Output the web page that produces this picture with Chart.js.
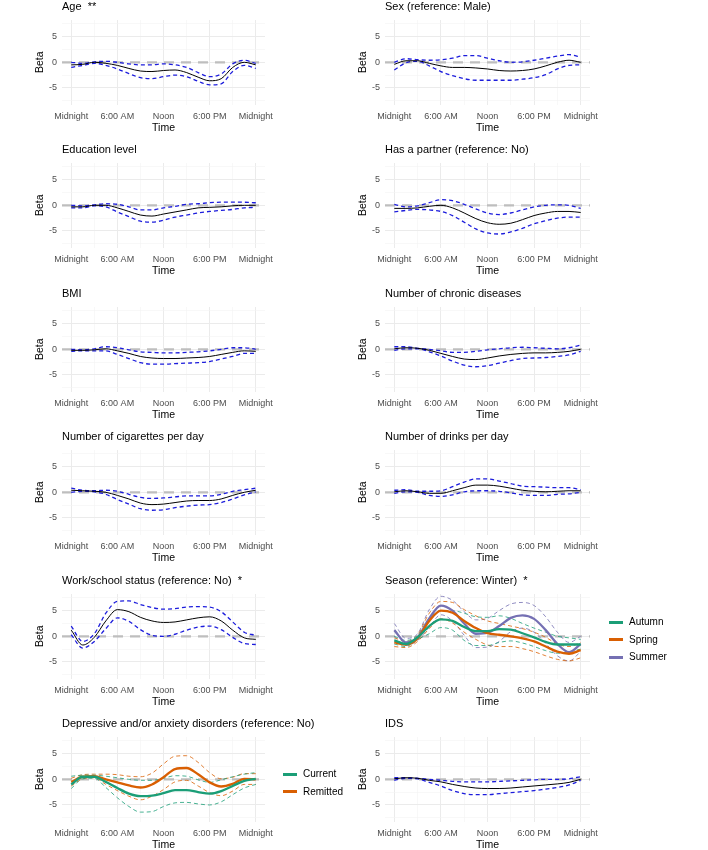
<!DOCTYPE html>
<html>
<head>
<meta charset="utf-8">
<script src="https://cdn.jsdelivr.net/npm/chart.js@4"></script>
<style>
  body { margin: 0; background: #fff; overflow: hidden; width: 708px; height: 850px; position: relative;
         font-family: "Liberation Sans", Arial, sans-serif; }
  canvas { position: absolute; }
  .leg { position: absolute; font-size: 10px; color: #000; }
  .leg .item { position: absolute; left: 0; height: 16px; line-height: 16px; white-space: nowrap; }
  .leg .sw { position: absolute; left: 0; top: 6.5px; width: 14px; height: 3px; }
  .leg .lb { position: absolute; left: 20px; top: 0; }
</style>
</head>
<body>
<script>
// time of day in hours, the x values of every curve
const hours = [0, 1.5, 3, 4.5, 6, 7.5, 9, 10.5, 12, 13.5, 15, 16.5, 18, 19.5, 21, 22.5, 24];
const xTickValues = [0, 6, 12, 18, 24];
const xTickLabels = ['Midnight', '6:00 AM', 'Noon', '6:00 PM', 'Midnight'];
const xGridHours = [0, 3, 6, 9, 12, 15, 18, 21, 24];
const yTickValues = [-5, 0, 5];
const yGridValues = [-7.5, -5, -2.5, 0, 2.5, 5, 7.5];
const refLine = 0;

// single-coefficient panels: fit, upper and lower bound
const ageFit   = [-0.5, -0.4, 0, -0.2, -0.6, -1.2, -1.7, -1.8, -1.6, -1.5, -2.0, -2.9, -3.6, -3.2, -1.0, 0.0, -0.5];
const ageUpper = [0, -0.2, 0.1, 0.2, 0, -0.3, -0.5, -0.5, -0.3, -0.5, -1.0, -2.0, -2.8, -2.3, -0.3, 0.4, -0.2];
const ageLower = [-1.0, -0.6, -0.2, -0.6, -1.3, -2.2, -3.0, -3.2, -2.8, -2.5, -2.8, -3.7, -4.4, -4.2, -1.8, -0.6, -1.2];

const sexFit   = [-0.4, 0.3, 0.3, -0.2, -0.7, -1.0, -1.0, -1.1, -1.3, -1.6, -1.7, -1.6, -1.3, -0.7, 0, 0.4, 0];
const sexUpper = [0, 0.7, 0.5, 0.4, 0.5, 0.8, 1.3, 1.3, 0.8, 0.3, 0, 0.1, 0.4, 0.8, 1.2, 1.5, 1.0];
const sexLower = [-1.5, -0.1, 0.2, -0.7, -1.8, -2.6, -3.2, -3.5, -3.5, -3.5, -3.5, -3.3, -3.0, -2.4, -1.3, -0.6, -0.5];

const eduFit   = [-0.3, -0.3, 0, 0, -0.5, -1.2, -1.9, -2.1, -1.7, -1.3, -0.9, -0.5, -0.4, -0.3, -0.1, 0, 0];
const eduUpper = [0, -0.1, 0.1, 0.3, 0.2, -0.3, -0.9, -0.9, -0.5, -0.2, 0.2, 0.3, 0.5, 0.6, 0.6, 0.6, 0.5];
const eduLower = [-0.5, -0.5, -0.1, -0.3, -1.3, -2.2, -3.1, -3.3, -2.9, -2.3, -1.9, -1.5, -1.2, -1.0, -0.8, -0.5, -0.4];

const partnerFit   = [-0.6, -0.6, -0.5, -0.2, 0, -0.5, -1.5, -2.6, -3.4, -3.7, -3.5, -2.8, -2.0, -1.5, -1.2, -1.2, -1.4];
const partnerUpper = [0.2, -0.3, -0.1, 0.5, 1.1, 0.9, 0.2, -0.7, -1.5, -1.8, -1.5, -0.9, -0.3, 0, 0.1, 0, -0.6];
const partnerLower = [-1.3, -1.0, -0.8, -0.9, -1.2, -2.0, -3.3, -4.6, -5.4, -5.6, -5.2, -4.5, -3.6, -3.0, -2.5, -2.3, -2.3];

const bmiFit   = [-0.2, -0.2, -0.1, 0.1, -0.3, -0.8, -1.4, -1.7, -1.8, -1.8, -1.7, -1.6, -1.4, -1.0, -0.6, -0.3, -0.4];
const bmiUpper = [0, -0.1, 0.1, 0.5, 0.3, -0.1, -0.5, -0.6, -0.7, -0.7, -0.6, -0.5, -0.3, 0, 0.3, 0.3, 0];
const bmiLower = [-0.4, -0.3, -0.3, -0.3, -1.0, -1.8, -2.6, -2.9, -2.9, -2.8, -2.7, -2.6, -2.4, -1.9, -1.4, -0.8, -0.8];

const chronicFit   = [0.1, 0.3, 0.2, -0.2, -0.8, -1.4, -1.9, -2.0, -1.7, -1.3, -1.0, -0.8, -0.7, -0.7, -0.6, -0.4, 0];
const chronicUpper = [0.5, 0.5, 0.2, 0, -0.3, -0.6, -0.6, -0.4, -0.1, 0.1, 0.3, 0.4, 0.3, 0.2, 0.1, 0.3, 0.8];
const chronicLower = [-0.2, 0.1, 0.1, -0.5, -1.3, -2.3, -3.1, -3.4, -3.2, -2.7, -2.2, -1.8, -1.7, -1.6, -1.4, -1.1, -0.4];

const cigFit   = [0.4, 0.3, 0.2, 0, -0.6, -1.3, -2.1, -2.4, -2.3, -2.0, -1.7, -1.6, -1.6, -1.3, -0.6, 0, 0.4];
const cigUpper = [0.8, 0.4, 0.3, 0.4, 0.2, -0.4, -1.0, -1.2, -1.1, -0.9, -0.7, -0.7, -0.7, -0.4, 0.2, 0.5, 0.8];
const cigLower = [0, 0.2, 0.1, -0.4, -1.4, -2.3, -3.2, -3.5, -3.4, -3.0, -2.7, -2.5, -2.4, -2.0, -1.3, -0.5, 0.1];

const drinkFit   = [0.1, 0.3, 0.1, -0.2, -0.2, 0.3, 0.9, 1.4, 1.4, 1.2, 0.8, 0.4, 0.2, 0.1, 0.2, 0.3, 0.3];
const drinkUpper = [0.4, 0.5, 0.2, 0.2, 0.3, 1.1, 2.0, 2.6, 2.6, 2.2, 1.7, 1.2, 1.1, 1.0, 0.9, 0.9, 0.5];
const drinkLower = [-0.2, 0.1, 0, -0.6, -0.8, -0.5, 0.1, 0.3, 0.3, 0.2, -0.1, -0.5, -0.6, -0.6, -0.4, -0.3, 0];

const workFit   = [1.2, -1.7, -0.2, 3.0, 5.2, 4.8, 3.7, 3.0, 2.7, 2.8, 3.2, 3.6, 3.8, 3.0, 1.2, -0.3, -0.6];
const workUpper = [2.0, -1.0, 0.5, 4.5, 6.8, 6.9, 6.2, 5.6, 5.3, 5.4, 5.7, 5.8, 5.7, 4.8, 2.8, 0.8, 0.2];
const workLower = [0.3, -2.3, -1.0, 1.5, 3.6, 2.9, 1.3, 0.2, 0, 0.4, 1.2, 1.8, 2.0, 1.3, -0.2, -1.4, -1.6];

const idsFit   = [0.1, 0.3, 0.2, -0.2, -0.5, -1.0, -1.4, -1.7, -1.8, -1.8, -1.7, -1.5, -1.3, -1.1, -0.9, -0.6, 0];
const idsUpper = [0.3, 0.3, 0.2, 0, -0.2, -0.4, -0.5, -0.5, -0.5, -0.4, -0.3, -0.2, -0.1, 0, 0, 0.1, 0.5];
const idsLower = [-0.2, 0.2, 0.1, -0.6, -1.3, -2.2, -2.8, -3.0, -3.0, -2.8, -2.6, -2.4, -2.2, -1.9, -1.6, -1.1, -0.2];

// season (reference: winter)
const seasonGroups = ['Autumn', 'Spring', 'Summer'];
const autumnFit   = [-0.8, -1.5, -0.2, 2.0, 3.3, 3.0, 1.8, 1.0, 1.0, 1.4, 1.3, 0.6, -0.2, -1.1, -1.6, -1.6, -1.6];
const autumnUpper = [0, -0.8, 0.2, 3.5, 5.0, 5.0, 4.5, 3.8, 3.7, 4.0, 3.5, 2.5, 1.6, 0.8, 0, -0.3, -0.6];
const autumnLower = [-1.5, -2.0, -0.6, 0.5, 1.7, 1.2, -0.8, -1.8, -1.8, -1.2, -0.9, -1.3, -2.0, -2.8, -3.3, -3.0, -2.5];
const springFit   = [-1.2, -1.6, -0.4, 3.0, 5.0, 4.6, 3.0, 1.6, 0.6, 0.3, 0, -0.4, -1.0, -2.0, -3.0, -3.4, -2.7];
const springUpper = [-0.3, -1.0, 0.3, 4.5, 6.8, 6.6, 5.2, 4.0, 3.0, 2.5, 2.0, 1.5, 0.8, -0.2, -1.5, -2.0, -1.2];
const springLower = [-2.0, -2.2, -1.0, 1.5, 3.4, 2.6, 0.8, -0.6, -1.7, -2.0, -2.0, -2.4, -3.0, -3.8, -4.5, -4.8, -4.2];
const summerFit   = [1.2, -1.2, -0.2, 3.5, 6.0, 5.0, 2.5, 0.5, 0.7, 2.0, 3.6, 4.1, 3.4, 1.2, -1.5, -3.1, -1.5];
const summerUpper = [2.5, -0.4, 0.5, 5.2, 7.8, 7.0, 4.8, 3.2, 3.5, 5.0, 6.3, 6.6, 6.0, 3.8, 0.8, -1.2, 0];
const summerLower = [0, -1.8, -0.8, 1.8, 4.2, 3.0, 0.2, -2.2, -2.1, -1.0, 0.9, 1.6, 0.8, -1.4, -3.8, -4.8, -3.0];

// depressive and/or anxiety disorders (reference: no)
const disorderGroups = ['Current', 'Remitted'];
const currentFit    = [-1.0, 0.5, 0.5, -0.5, -1.7, -2.8, -3.3, -3.2, -2.7, -2.1, -2.1, -2.5, -2.8, -2.3, -1.3, -0.3, 0.1];
const currentUpper  = [0.6, 0.8, 0.8, 0.6, 0.3, 0, -0.2, -0.2, 0.2, 0.7, 0.6, -0.1, -0.6, -0.1, 0.5, 1.0, 1.3];
const currentLower  = [-1.8, 0.1, 0.2, -1.6, -3.6, -5.3, -6.4, -6.3, -5.3, -4.6, -4.5, -4.8, -5.0, -4.4, -3.0, -1.7, -1.0];
const remittedFit   = [-0.5, 0.5, 0.6, 0, -0.6, -1.2, -1.6, -1.0, 0.4, 2.0, 2.2, 1.0, -0.6, -1.4, -0.9, 0.1, 0];
const remittedUpper = [0.2, 0.9, 1.0, 1.0, 0.9, 0.6, 0.5, 1.2, 3.0, 4.5, 4.6, 3.3, 1.3, 0.1, 0.4, 1.1, 1.1];
const remittedLower = [-1.3, 0.1, 0.3, -1.0, -2.2, -3.3, -4.0, -3.3, -2.0, -0.5, -0.2, -1.3, -2.6, -3.2, -2.3, -1.0, -1.0];

const groupColors = ['#1B9E77', '#D95F02', '#7570B3'];

const pts = arr => arr.map((v, i) => ({ x: hours[i], y: v }));

function singleSets(fit, upper, lower) {
  return [
    { data: pts(fit), borderColor: '#000', borderWidth: 1 },
    { data: pts(upper), borderColor: '#1c1cdc', borderWidth: 1.3, borderDash: [4, 3] },
    { data: pts(lower), borderColor: '#1c1cdc', borderWidth: 1.3, borderDash: [4, 3] }
  ];
}

function groupSets(fits, uppers, lowers) {
  const main = fits.map((f, g) => ({ data: pts(f), borderColor: groupColors[g], borderWidth: 2.3 }));
  const bands = [];
  uppers.forEach((u, g) => {
    bands.push({ data: pts(u), borderColor: groupColors[g], borderWidth: 0.8, borderDash: [4, 3] });
    bands.push({ data: pts(lowers[g]), borderColor: groupColors[g], borderWidth: 0.8, borderDash: [4, 3] });
  });
  return main.concat(bands);
}

const panels = [
  { title: 'Age  **', row: 0, col: 0, sets: singleSets(ageFit, ageUpper, ageLower) },
  { title: 'Sex (reference: Male)', row: 0, col: 1, sets: singleSets(sexFit, sexUpper, sexLower) },
  { title: 'Education level', row: 1, col: 0, sets: singleSets(eduFit, eduUpper, eduLower) },
  { title: 'Has a partner (reference: No)', row: 1, col: 1, sets: singleSets(partnerFit, partnerUpper, partnerLower) },
  { title: 'BMI', row: 2, col: 0, sets: singleSets(bmiFit, bmiUpper, bmiLower) },
  { title: 'Number of chronic diseases', row: 2, col: 1, sets: singleSets(chronicFit, chronicUpper, chronicLower) },
  { title: 'Number of cigarettes per day', row: 3, col: 0, sets: singleSets(cigFit, cigUpper, cigLower) },
  { title: 'Number of drinks per day', row: 3, col: 1, sets: singleSets(drinkFit, drinkUpper, drinkLower) },
  { title: 'Work/school status (reference: No)  *', row: 4, col: 0, sets: singleSets(workFit, workUpper, workLower) },
  { title: 'Season (reference: Winter)  *', row: 4, col: 1,
    sets: groupSets([autumnFit, springFit, summerFit], [autumnUpper, springUpper, summerUpper], [autumnLower, springLower, summerLower]) },
  { title: 'Depressive and/or anxiety disorders (reference: No)', row: 5, col: 0,
    sets: groupSets([currentFit, remittedFit], [currentUpper, remittedUpper], [currentLower, remittedLower]) },
  { title: 'IDS', row: 5, col: 1, sets: singleSets(idsFit, idsUpper, idsLower) }
];

// panel title, drawn from the plot's left edge like ggplot
const panelTitle = {
  id: 'panelTitle',
  afterDraw(chart, args, opts) {
    const c = chart.ctx;
    c.save();
    c.font = '11px "Liberation Sans", Arial, sans-serif';
    c.fillStyle = '#000';
    c.textAlign = 'left';
    c.textBaseline = 'middle';
    c.fillText(opts.text, chart.chartArea.left, chart.chartArea.top - 13.5);
    c.restore();
  }
};

// grey dashed zero line
const zeroLine = {
  id: 'zeroLine',
  beforeDatasetsDraw(chart) {
    const { ctx, chartArea: a, scales: { y } } = chart;
    const py = y.getPixelForValue(refLine);
    ctx.save();
    ctx.strokeStyle = '#BEBEBE';
    ctx.lineWidth = 2.2;
    ctx.setLineDash([10, 7]);
    ctx.beginPath();
    ctx.moveTo(a.left, py);
    ctx.lineTo(a.right, py);
    ctx.stroke();
    ctx.restore();
  }
};

const cols = [
  { left: 32, width: 293 },   // plot 62..265
  { left: 355, width: 255 }   // plot 385..590
];
const padRight = [60, 20];

Chart.defaults.font.family = '"Liberation Sans", Arial, sans-serif';

panels.forEach(p => {
  const zeroY = 62.3 + p.row * 143.48;
  const cv = document.createElement('canvas');
  cv.width = cols[p.col].width;
  cv.height = 138;
  cv.style.left = cols[p.col].left + 'px';
  cv.style.top = Math.round(zeroY - 64.3) + 'px';
  document.body.appendChild(cv);

  p.sets.forEach(s => { s.fill = false; s.pointRadius = 0; s.cubicInterpolationMode = 'monotone'; });

  new Chart(cv, {
    type: 'line',
    data: { datasets: p.sets },
    plugins: [panelTitle, zeroLine],
    options: {
      responsive: false,
      animation: false,
      layout: { padding: { top: 22, right: padRight[p.col], left: 0, bottom: 0 } },
      plugins: { legend: { display: false }, tooltip: { enabled: false }, panelTitle: { text: p.title } },
      scales: {
        x: {
          type: 'linear', min: -1.2, max: 25.2, bounds: 'data',
          afterBuildTicks: s => { s.ticks = xGridHours.map(v => ({ value: v })); },
          afterFit: s => { s.height = 31.4; },
          ticks: {
            autoSkip: false, maxRotation: 0, minRotation: 0, padding: 7,
            color: '#4D4D4D', font: { size: 9 },
            callback: v => { const i = xTickValues.indexOf(v); return i < 0 ? '' : xTickLabels[i]; }
          },
          grid: {
            drawTicks: false,
            color: c => xTickValues.includes(c.tick.value) ? '#EBEBEB' : '#F3F3F3',
            lineWidth: c => xTickValues.includes(c.tick.value) ? 1 : 0.6
          },
          border: { display: false },
          title: { display: true, text: 'Time', color: '#000', font: { size: 10.5 }, padding: { top: 0, bottom: 1.5 } }
        },
        y: {
          min: -8.25, max: 8.25, bounds: 'data',
          afterBuildTicks: s => { s.ticks = yGridValues.map(v => ({ value: v })); },
          afterFit: s => { s.width = 30; },
          ticks: {
            autoSkip: false, padding: 5, color: '#4D4D4D', font: { size: 9 },
            callback: v => yTickValues.includes(v) ? String(v) : ''
          },
          grid: {
            drawTicks: false,
            color: c => yTickValues.includes(c.tick.value) ? '#EBEBEB' : '#F3F3F3',
            lineWidth: c => yTickValues.includes(c.tick.value) ? 1 : 0.6
          },
          border: { display: false },
          title: { display: true, text: 'Beta', color: '#000', font: { size: 10.5 }, padding: { top: 2, bottom: 0 } }
        }
      }
    }
  });
});

// legends for the two multi-group panels
function addLegend(names, left, firstCenter) {
  const box = document.createElement('div');
  box.className = 'leg';
  box.style.left = left + 'px';
  box.style.top = '0px';
  names.forEach((n, g) => {
    const it = document.createElement('div');
    it.className = 'item';
    it.style.top = (firstCenter - 8 + g * 17.5) + 'px';
    it.innerHTML = '<span class="sw" style="background:' + groupColors[g] + '"></span><span class="lb">' + n + '</span>';
    box.appendChild(it);
  });
  document.body.appendChild(box);
}
addLegend(seasonGroups, 609, 622);
addLegend(disorderGroups, 283, 774.3);
</script>
</body>
</html>
